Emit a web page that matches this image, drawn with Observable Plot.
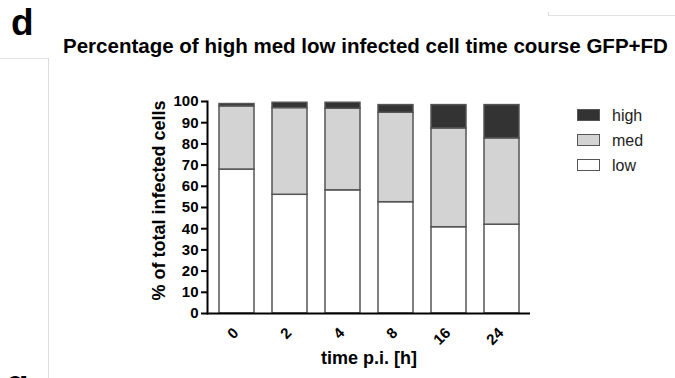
<!DOCTYPE html>
<html><head><meta charset="utf-8">
<script src="https://cdn.jsdelivr.net/npm/d3@7"></script>
<script src="https://cdn.jsdelivr.net/npm/@observablehq/plot@0.6"></script>
<style>
html,body{margin:0;padding:0;background:#fff;overflow:hidden;}
#wrap{position:relative;width:675px;height:378px;overflow:hidden;font-family:"Liberation Sans",Arial,sans-serif;color:#000;}
#wrap svg{position:absolute;left:0;top:0;}
.abs{position:absolute;line-height:1;white-space:nowrap;}
.panel{font-weight:bold;font-size:37px;}
.title{font-weight:bold;font-size:20px;transform-origin:left top;}
.sw{position:absolute;box-sizing:border-box;width:23px;height:12px;border:1.5px solid #555;}
.lg{position:absolute;line-height:1;font-size:16px;color:#222;}
.hl{position:absolute;height:0;border-top:1px solid #e2e2e2;}
.vl{position:absolute;width:0;border-left:1px solid #dcdcdc;}
</style></head><body><div id="wrap"></div>
<script>
const times = ["0", "2", "4", "8", "16", "24"];
const lowValues = [67.9, 56.0, 58.1, 52.5, 40.7, 41.9];
const medValues = [29.8, 40.9, 38.5, 42.2, 46.6, 40.7];
const highValues = [1.1, 2.5, 2.8, 3.6, 11.0, 15.7];
const levels = ["low", "med", "high"];
const levelColors = ["#ffffff", "#d3d3d3", "#333333"];
const yTicks = [0, 10, 20, 30, 40, 50, 60, 70, 80, 90, 100];
const titleText = "Percentage of high med low infected cell time course GFP+FD";
const xLabel = "time p.i. [h]";
const yLabel = "% of total infected cells";

const data = times.flatMap((t, i) => [
  {time: t, level: "low", value: lowValues[i]},
  {time: t, level: "med", value: medValues[i]},
  {time: t, level: "high", value: highValues[i]}
]);

const font = '"Liberation Sans", Arial, sans-serif';
const chart = Plot.plot({
  width: 675, height: 378,
  marginLeft: 207, marginRight: 145, marginTop: 101, marginBottom: 65,
  style: {fontFamily: font, color: "#000", background: "transparent"},
  x: {domain: times, paddingInner: 0.34, paddingOuter: 0.19},
  y: {domain: [0, 100]},
  color: {domain: levels, range: levelColors},
  marks: [
    Plot.barY(data, Plot.stackY({x: "time", y: "value", fill: "level", order: levels, stroke: "#555", strokeWidth: 1.5})),
    Plot.axisY({ticks: yTicks, tickSize: 6, tickPadding: 3, strokeWidth: 2, fontSize: 15, fontWeight: "bold", label: null}),
    Plot.axisX({tickSize: 0, tickRotate: -45, tickPadding: 6, dy: 11, dx: -1, fontSize: 15, fontWeight: "bold", label: null}),
    Plot.frame({anchor: "left", strokeWidth: 2}),
    Plot.ruleY([0], {strokeWidth: 2}),
    Plot.text([xLabel], {frameAnchor: "bottom", lineAnchor: "middle", dy: 45, fontSize: 18, fontWeight: "bold"}),
    Plot.text([yLabel], {frameAnchor: "left", textAnchor: "middle", lineAnchor: "middle", rotate: -90, dx: -48, dy: -7, fontSize: 18, fontWeight: "bold"})
  ]
});

const wrap = document.getElementById("wrap");
wrap.appendChild(chart);

function addDiv(cls, css, text) {
  const d = document.createElement("div");
  d.className = cls;
  Object.assign(d.style, css);
  if (text != null) d.textContent = text;
  wrap.appendChild(d);
  return d;
}
// decorative panel borders
addDiv("hl", {left: "0px", top: "58px", width: "49px"});
addDiv("vl", {left: "48px", top: "58px", height: "330px"});
addDiv("hl", {left: "548px", top: "15px", width: "127px"});
addDiv("vl", {left: "548px", top: "12px", height: "4px"});
// panel letters and title
addDiv("abs panel", {left: "11px", top: "4px"}, "d");
addDiv("abs panel", {left: "6px", top: "365px"}, "g");
const title = addDiv("abs title", {left: "62.5px", top: "36px"}, titleText);
const tw = title.getBoundingClientRect().width;
title.style.transform = `scaleX(${(605 / tw).toFixed(3)})`;
// legend
const legendOrder = ["high", "med", "low"];
legendOrder.forEach((lv, k) => {
  const top = 109 + k * 25;
  addDiv("sw", {left: "577px", top: top + "px", background: levelColors[levels.indexOf(lv)]});
  addDiv("lg", {left: "612px", top: (top - 1.5) + "px"}, lv);
});
</script>
</body></html>
